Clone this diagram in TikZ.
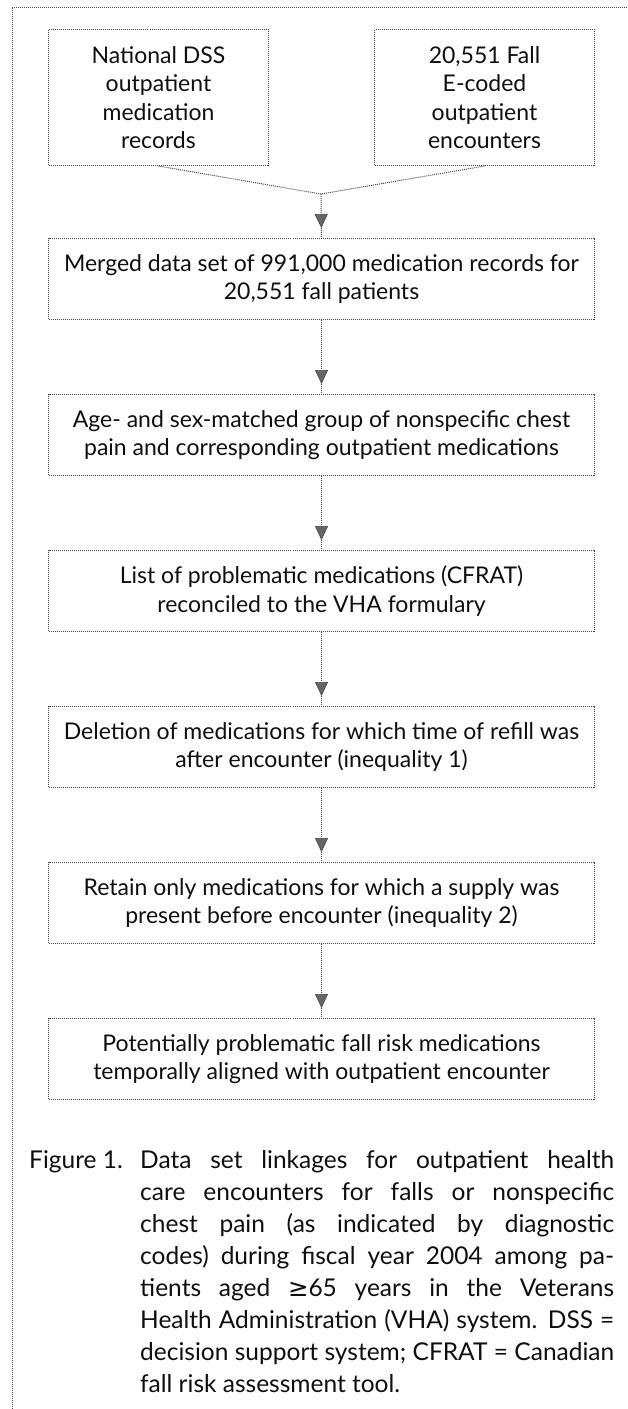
\documentclass[tikz,border=0pt]{standalone}
\usepackage{fontspec}
\setmainfont{Lato}
\newfontfamily\symfont{DejaVu Sans}
\usepackage{tikz}
\usetikzlibrary{arrows.meta,positioning,calc,decorations.markings}
\definecolor{ink}{RGB}{15,15,15}
\definecolor{dots}{RGB}{70,70,70}
\tikzset{
  frame/.style={draw=dots, densely dotted, line width=1pt},
  stage/.style={draw=dots, densely dotted, line width=1pt, align=center, text=ink,
    minimum width=546pt, minimum height=81pt, inner sep=0pt},
  source/.style={stage, minimum width=220pt, minimum height=136pt},
  feed/.style={draw=dots, densely dotted, line width=1pt},
  link/.style={feed, postaction={decorate},
    decoration={markings, mark=at position -10pt with
      {\arrow[solid]{Triangle[length=14pt, width=13pt, fill=black!60, color=dots, line width=0.6pt]}}}},
  legend/.style={text=ink, align=justify, text width=585pt, inner sep=0pt,
    font=\fontsize{24.5}{32}\selectfont}
}

\begin{document}
\begin{tikzpicture}[x=1pt, y=-1pt, font=\fontsize{23}{28.5}\selectfont]
  \useasboundingbox (0,0) rectangle (627,1409);
  \draw[frame] (12,1409) |- (627,7);
  % sources
  \node[source, anchor=north west] (dss) at (48,29) {National DSS\\outpatient\\medication\\records};
  \node[source, anchor=north west] (fall) at (374,29) {20,551 Fall\\E-coded\\outpatient\\encounters};
  % steps
  \node[stage, anchor=north west] (merged) at (48,238)
    {Merged data set of 991,000 medication records for\\20,551 fall patients};
  \node[stage, below=74pt of merged] (agesex)
    {Age- and sex-matched group of nonspecific chest\\pain and corresponding outpatient medications};
  \node[stage, below=74pt of agesex] (cfrat)
    {List of problematic medications (CFRAT)\\reconciled to the VHA formulary};
  \node[stage, below=74pt of cfrat] (refill)
    {Deletion of medications for which time of refill was\\after encounter (inequality 1)};
  \node[stage, below=74pt of refill] (supply)
    {Retain only medications for which a supply was\\present before encounter (inequality 2)};
  \node[stage, below=74pt of supply] (aligned)
    {Potentially problematic fall risk medications\\temporally aligned with outpatient encounter};
  \coordinate (join) at (321,194);
  \draw[feed] (dss.south) -- (join);
  \draw[feed] (fall.south) -- (join);
  \draw[link] (join) -- (merged.north);
  \foreach \a/\b in {merged/agesex, agesex/cfrat, cfrat/refill, refill/supply, supply/aligned}
    \draw[link] (\a.south) -- (\b.north);
  % caption
  \node[legend, anchor=north west] (note) at (29,1150)
    {\hangindent=111pt\hangafter=1\makebox[111pt][l]{Figure 1.}Data set linkages for outpatient health\linebreak
     care encounters for falls or nonspecific\linebreak
     chest pain (as indicated by diagnostic\linebreak
     codes) during fiscal year 2004 among pa-\linebreak
     tients aged {\symfont ≥}65 years in the Veterans\linebreak
     Health Administration (VHA) system. DSS =\linebreak
     decision support system; CFRAT = Canadian\linebreak
     fall risk assessment tool.\par};
\end{tikzpicture}
\end{document}
